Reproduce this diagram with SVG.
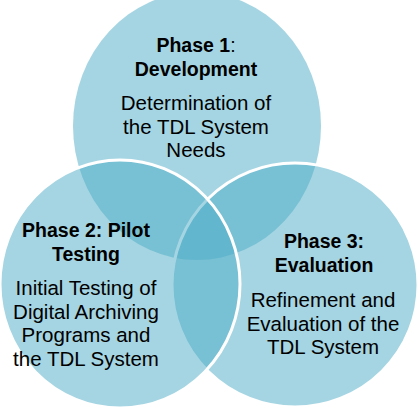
<svg xmlns="http://www.w3.org/2000/svg" width="418" height="418" viewBox="0 0 418 418">
<style>
.c{fill:#4BACC6;fill-opacity:0.5}
.s{stroke:#FFFFFF;stroke-width:3}
text{font-family:"Liberation Sans",Arial,sans-serif;font-size:20.5px;fill:#000;text-anchor:middle}
.b{font-weight:bold;font-size:19.5px}
</style>
<rect width="418" height="418" fill="#FFFFFF"/>
<g id="phase1">
<ellipse class="c" cx="197" cy="126" rx="124" ry="134"/>
<text x="196" y="52"><tspan class="b">Phase 1</tspan><tspan font-size="19.5px">:</tspan></text>
<text class="b" x="196" y="76">Development</text>
<text x="196" y="110">Determination of</text>
<text x="196" y="133.5">the TDL System</text>
<text x="196" y="157">Needs</text>
</g>
<g id="phase3">
<ellipse class="c s" cx="295" cy="285" rx="123" ry="122"/>
<text class="b" x="324" y="248">Phase 3:</text>
<text class="b" x="324" y="272">Evaluation</text>
<text x="323" y="307">Refinement and</text>
<text x="323" y="330.5">Evaluation of the</text>
<text x="323" y="354">TDL System</text>
</g>
<g id="phase2">
<ellipse class="c s" cx="120" cy="284" rx="120" ry="124"/>
<text class="b" x="86" y="237">Phase 2: Pilot</text>
<text class="b" x="86" y="261">Testing</text>
<text x="86" y="295">Initial Testing of</text>
<text x="86" y="318.7">Digital Archiving</text>
<text x="86" y="342.3">Programs and</text>
<text x="86" y="366">the TDL System</text>
</g>
<g id="connectors"/>
</svg>
